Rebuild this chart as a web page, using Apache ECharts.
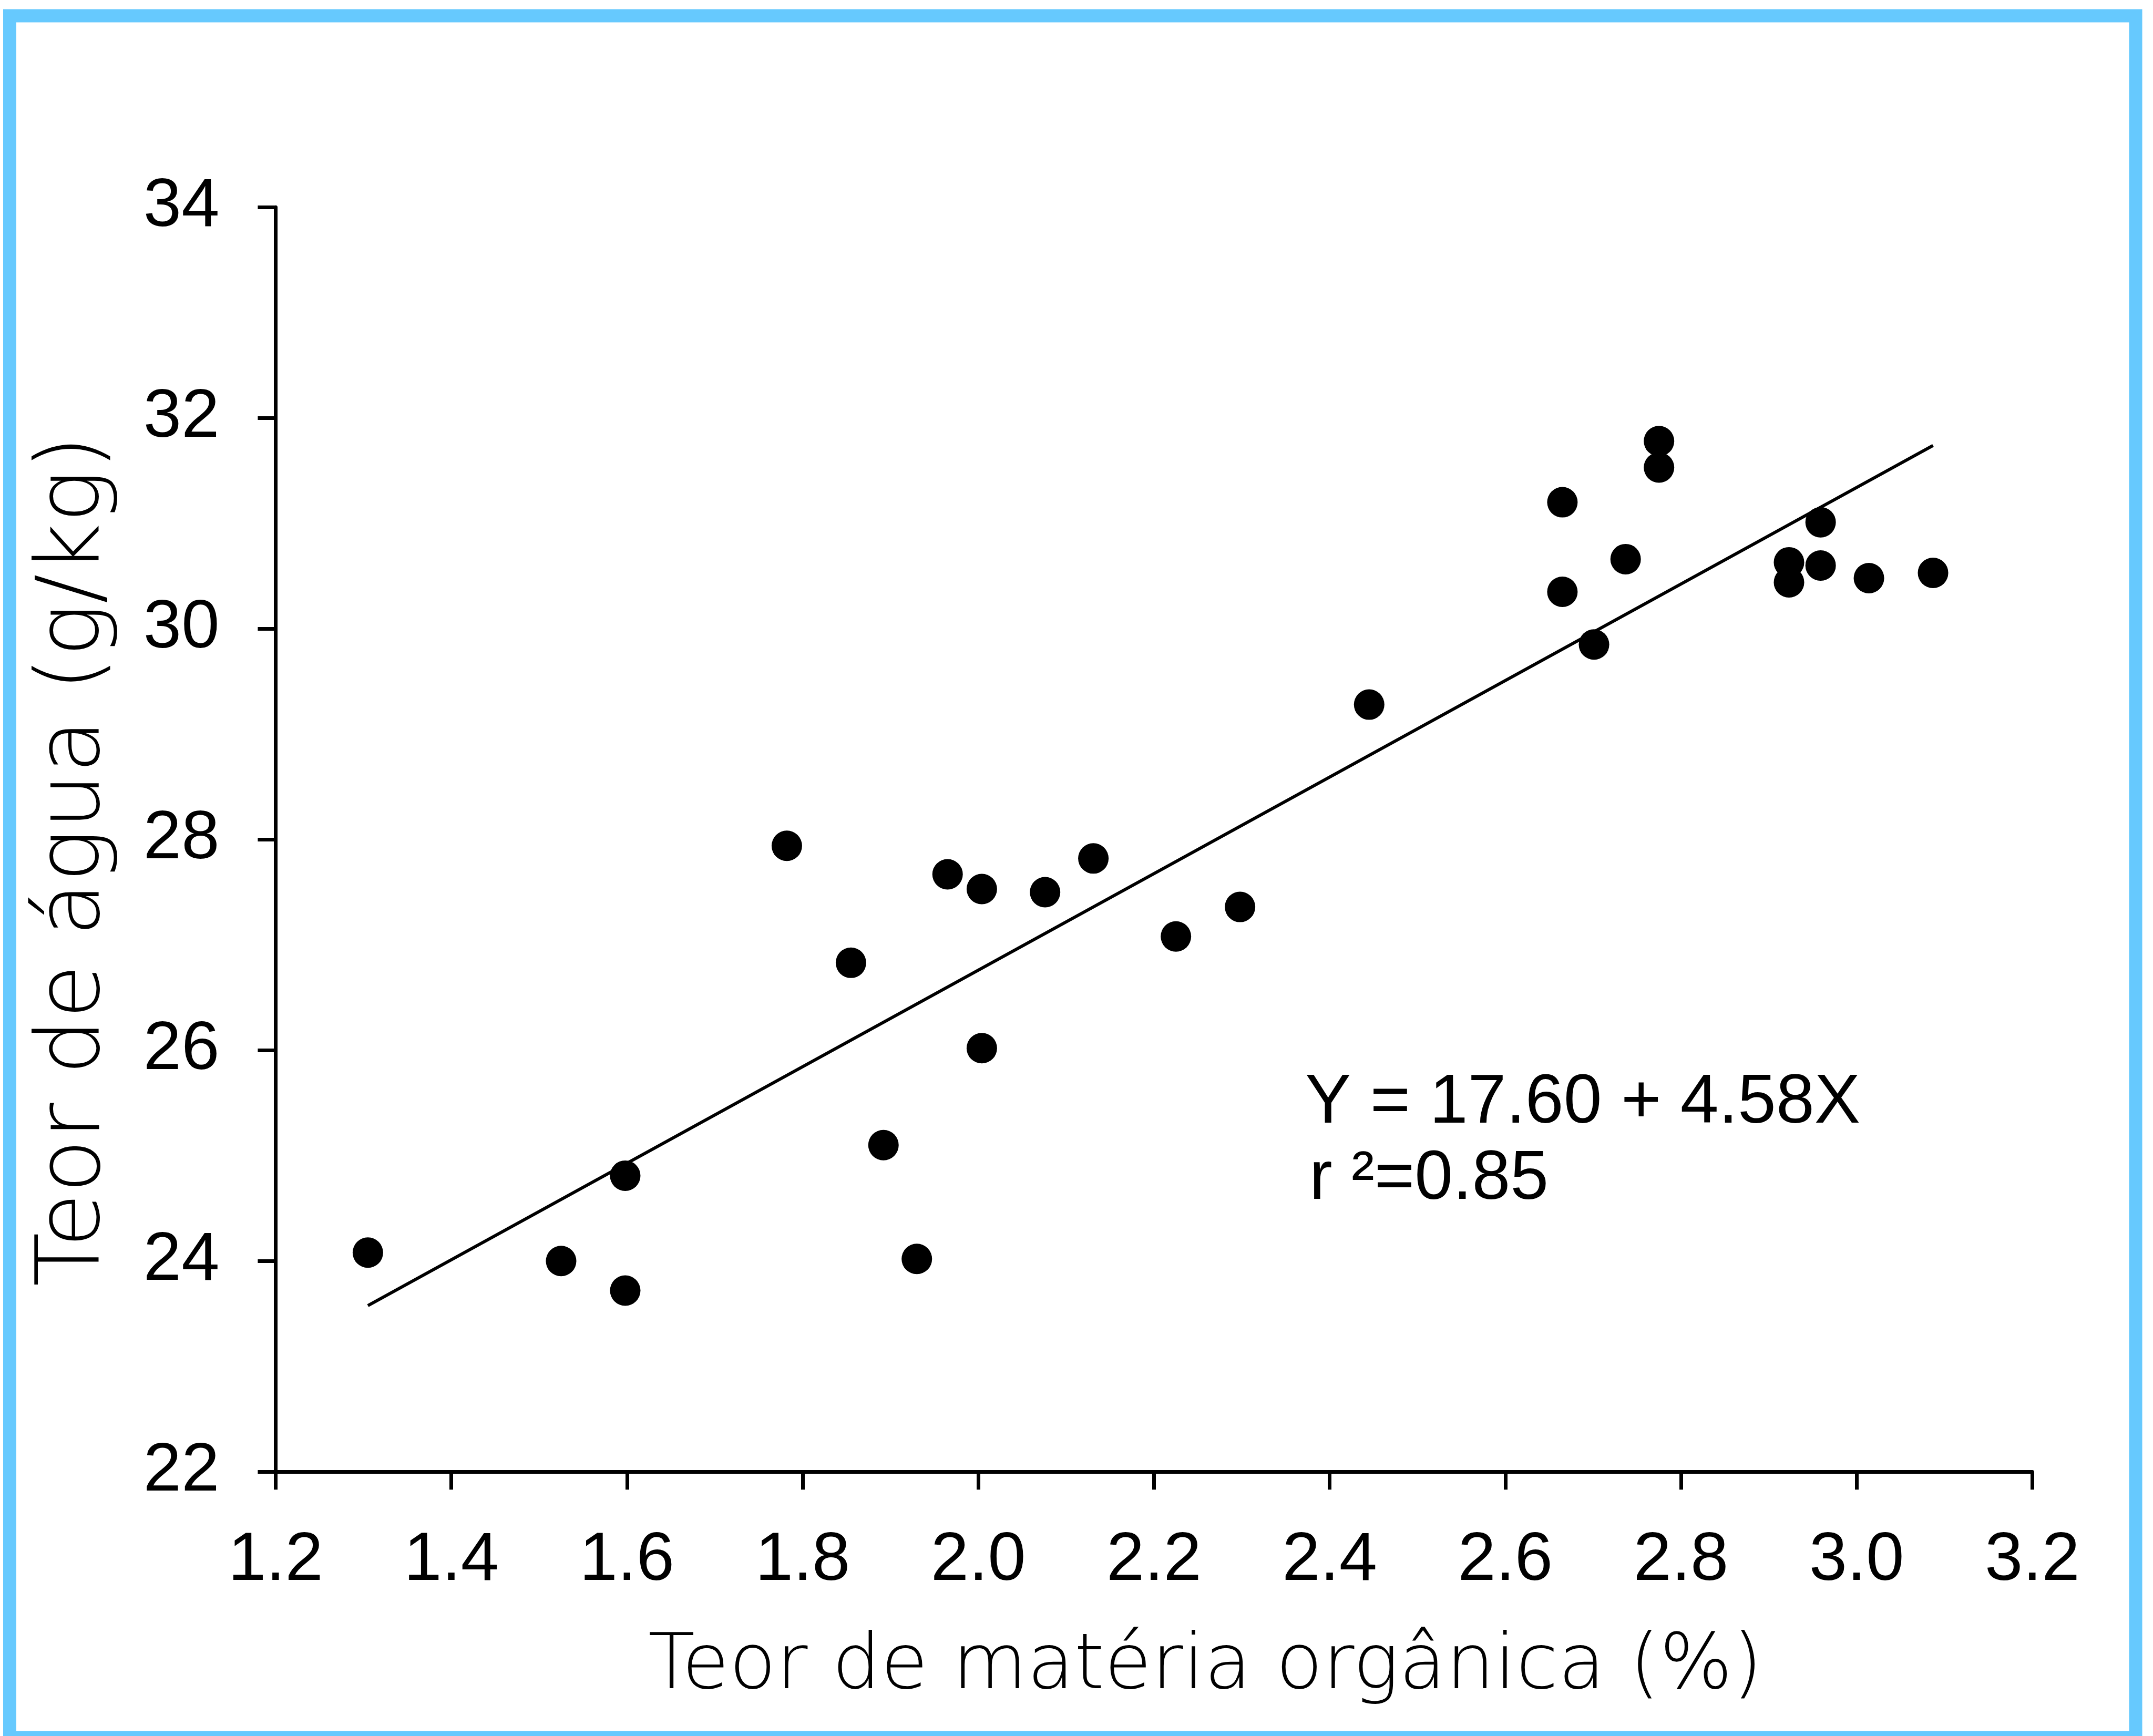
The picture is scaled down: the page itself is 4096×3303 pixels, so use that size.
<!DOCTYPE html>
<html>
<head>
<meta charset="utf-8">
<title>Teor de água x matéria orgânica</title>
<script src="https://cdn.jsdelivr.net/npm/echarts@6/dist/echarts.min.js"></script>
<style>
  html, body { margin: 0; padding: 0; background: #fff; }
  #chart { width: 4096px; height: 3303px; }
</style>
</head>
<body>
<div id="chart"></div>
<script>
// teor de matéria orgânica (%)
var materiaOrganica = [1.305, 1.525, 1.598, 1.598, 1.782, 1.855, 1.892, 1.930, 1.965, 2.004,
  2.004, 2.076, 2.131, 2.225, 2.298, 2.445, 2.665, 2.665, 2.701, 2.737,
  2.775, 2.775, 2.923, 2.923, 2.959, 2.959, 3.014, 3.087];
// teor de água (g/kg)
var teorAgua = [24.08, 24.00, 24.81, 23.72, 27.94, 26.83, 25.10, 24.02, 27.67, 27.53,
  26.02, 27.50, 27.82, 27.08, 27.36, 29.28, 31.20, 30.35, 29.85, 30.66,
  31.78, 31.53, 30.63, 30.44, 31.01, 30.60, 30.48, 30.53];
var xTickLabels = ["1.2", "1.4", "1.6", "1.8", "2.0", "2.2", "2.4", "2.6", "2.8", "3.0", "3.2"];
var yTickLabels = ["22", "24", "26", "28", "30", "32", "34"];
// reta de regressão: Y = 17.60 + 4.58X
var intercepto = 17.60;
var inclinacao = 4.58;

var s = 4096 / 4780;
var labelFont = "'Liberation Sans', Arial, sans-serif";
var titleFont = "'DejaVu Sans', 'Open Sans', sans-serif";

function getChart() {
  var myChart = echarts.init(document.getElementById("chart"));

  var pontos = materiaOrganica.map(function (x, i) { return [x, teorAgua[i]]; });
  var xMin = Math.min.apply(null, materiaOrganica);
  var xMax = Math.max.apply(null, materiaOrganica);
  var reta = [[xMin, intercepto + inclinacao * xMin], [xMax, intercepto + inclinacao * xMax]];

  let option = {
    backgroundColor: "#fff",
    animation: false,
    grid: {
      left: 612 * s,
      right: 4096 - 4512 * s,
      top: 460 * s,
      bottom: 3303 - 3268 * s,
      outerBoundsMode: "none"
    },
    xAxis: {
      type: "value",
      min: 1.2,
      max: 3.2,
      interval: 0.2,
      splitLine: { show: false },
      axisLine: { onZero: false, lineStyle: { color: "#000", width: 7 } },
      axisTick: { inside: false, length: 34, lineStyle: { color: "#000", width: 7 } },
      axisLabel: {
        margin: 105,
        color: "#000",
        fontSize: 130,
        fontFamily: labelFont,
        formatter: function (v, idx) { return xTickLabels[idx]; }
      }
    },
    yAxis: {
      type: "value",
      min: 22,
      max: 34,
      interval: 2,
      splitLine: { show: false },
      axisLine: { show: true, onZero: false, lineStyle: { color: "#000", width: 7 } },
      axisTick: { show: true, inside: false, length: 34, lineStyle: { color: "#000", width: 7 } },
      axisLabel: {
        margin: 107,
        color: "#000",
        fontSize: 130,
        fontFamily: labelFont,
        formatter: function (v, idx) { return yTickLabels[idx]; }
      }
    },
    series: [
      {
        name: "reta",
        type: "line",
        data: reta,
        symbol: "none",
        lineStyle: { color: "#000", width: 6 },
        z: 2
      },
      {
        name: "pontos",
        type: "scatter",
        data: pontos,
        symbol: "circle",
        symbolSize: 58,
        itemStyle: { color: "#000", opacity: 1 },
        z: 3
      }
    ],
    graphic: [
      {
        type: "rect",
        shape: { x: 18.5, y: 30, width: 4044.5, height: 3276 },
        style: { fill: "none", stroke: "#66c9fe", lineWidth: 25 },
        z: 10
      },
      {
        type: "text",
        x: 2293,
        y: 3174,
        style: {
          text: "Teor de matéria orgânica (%)",
          fill: "#000",
          font: "200 146px " + titleFont,
          textAlign: "center",
          textVerticalAlign: "middle"
        }
      },
      {
        type: "text",
        x: 144,
        y: 1638,
        rotation: Math.PI / 2,
        style: {
          text: "Teor de água (g/kg)",
          fill: "#000",
          font: "200 168px " + titleFont,
          textAlign: "center",
          textVerticalAlign: "middle"
        }
      },
      {
        type: "text",
        x: 2483,
        y: 2100,
        style: {
          text: "Y = 17.60 + 4.58X",
          fill: "#000",
          font: "131px " + labelFont,
          textAlign: "left",
          textVerticalAlign: "middle"
        }
      },
      {
        type: "text",
        x: 2491,
        y: 2245,
        style: {
          text: "r ²=0.85",
          fill: "#000",
          font: "131px " + labelFont,
          textAlign: "left",
          textVerticalAlign: "middle"
        }
      }
    ]
  };
  myChart.setOption(option);
  window.addEventListener("resize", () => { myChart.resize(); });
}

getChart();
</script>
</body>
</html>
